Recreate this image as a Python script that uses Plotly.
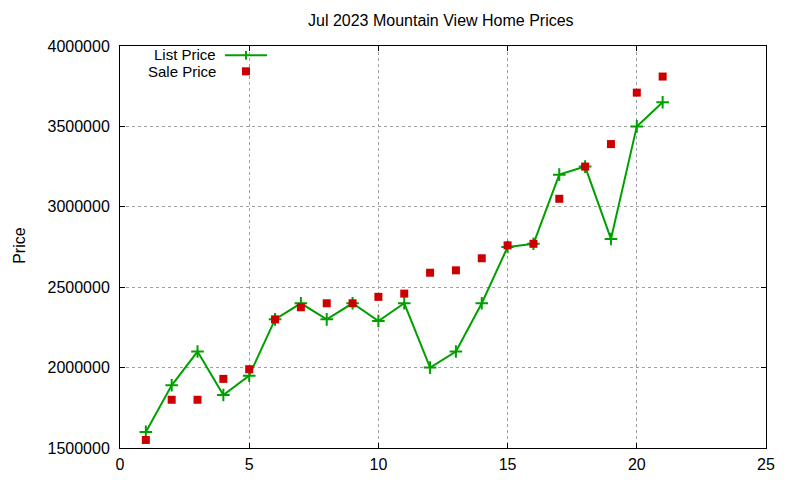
import plotly.graph_objects as go

# Monthly listing data (index 1..21)
listing = list(range(1, 22))
list_price = [1600000, 1890000, 2100000, 1830000, 1950000, 2300000, 2400000,
              2300000, 2400000, 2290000, 2400000, 2000000, 2100000, 2400000,
              2750000, 2770000, 3200000, 3250000, 2800000, 3500000, 3650000]
sale_price = [1550000, 1800000, 1800000, 1930000, 1990000, 2300000, 2375000,
              2400000, 2400000, 2440000, 2460000, 2590000, 2605000, 2680000,
              2760000, 2770000, 3050000, 3250000, 3390000, 3710000, 3810000]

x_ticks = [0, 5, 10, 15, 20, 25]
y_ticks = [1500000, 2000000, 2500000, 3000000, 3500000, 4000000]

green = "#00a000"
red = "#cc0000"

fig = go.Figure()
fig.add_trace(go.Scatter(
    x=listing, y=list_price, mode="lines+markers", name="List Price",
    line=dict(color=green, width=2),
    marker=dict(symbol="cross-thin", size=9, line=dict(color=green, width=2)),
))
fig.add_trace(go.Scatter(
    x=listing, y=sale_price, mode="markers", name="Sale Price",
    marker=dict(symbol="square", size=8, color=red),
))

axis_common = dict(
    showline=True, linecolor="black", linewidth=1, mirror="allticks",
    ticks="inside", ticklen=5, tickcolor="black",
    showgrid=True, gridcolor="#a0a0a0", griddash="dot", gridwidth=1,
    zeroline=False, tickfont=dict(size=16, color="black"),
)

fig.update_xaxes(range=[0, 25], tickvals=x_ticks, ticklabelstandoff=2, **axis_common)
fig.update_yaxes(range=[1500000, 4000000], tickvals=y_ticks,
                 tickformat="d", ticklabelstandoff=6, **axis_common)

# gnuplot-style legend: text on the left, sample on the right
fig.add_annotation(x=0.150, y=0.980, xref="paper", yref="paper", text="List Price",
                   showarrow=False, xanchor="right", yanchor="middle",
                   borderpad=0, font=dict(size=15, color="black"))
fig.add_annotation(x=0.150, y=0.937, xref="paper", yref="paper", text="Sale Price",
                   showarrow=False, xanchor="right", yanchor="middle",
                   borderpad=0, font=dict(size=15, color="black"))
fig.add_shape(type="line", xref="paper", yref="paper", x0=0.1625, x1=0.2276,
              y0=0.977, y1=0.977, line=dict(color=green, width=2))
fig.add_shape(type="line", xref="paper", yref="paper", x0=0.1950, x1=0.1950,
              y0=0.966, y1=0.988, line=dict(color=green, width=2))
fig.add_shape(type="rect", xref="paper", yref="paper", x0=0.1888, x1=0.2012,
              y0=0.927, y1=0.947, line=dict(width=0), fillcolor=red)

fig.update_layout(
    width=800, height=480,
    margin=dict(l=112, r=42, t=38, b=40),
    paper_bgcolor="white", plot_bgcolor="white",
    font=dict(family="Liberation Sans, Arial, sans-serif", color="black"),
    title=dict(text="Jul 2023 Mountain View Home Prices", x=0.541, xanchor="center",
               y=0.975, yanchor="middle", font=dict(size=16)),
    showlegend=False,
)
fig.add_annotation(x=-0.155, y=0.505, xref="paper", yref="paper", text="Price",
                   showarrow=False, textangle=-90, xanchor="center", yanchor="middle",
                   borderpad=0, font=dict(size=16))

fig.write_html("out.html")
